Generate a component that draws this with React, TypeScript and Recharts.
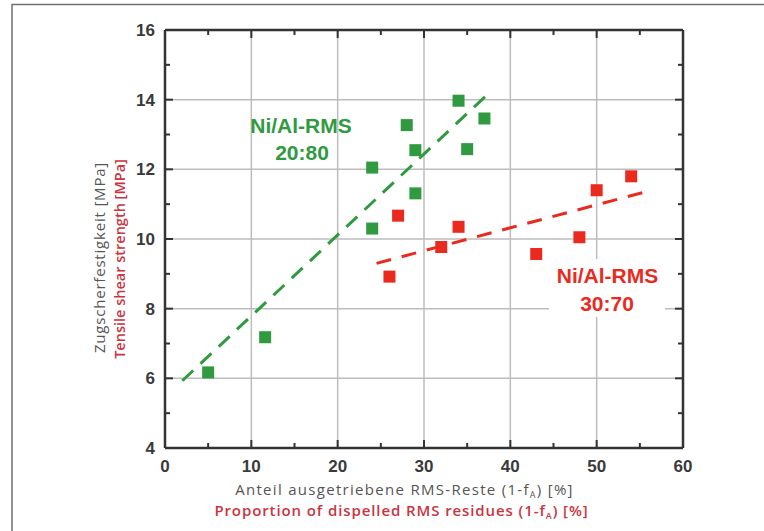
import React from 'react';
import { ScatterChart, Scatter, XAxis, YAxis, CartesianGrid } from 'recharts';

// ---- data ----
const greenX = [5, 11.6, 24, 24, 28, 29, 29, 34, 35, 37];
const greenY = [6.17, 7.18, 10.3, 12.05, 13.27, 12.55, 11.31, 13.97, 12.58, 13.46];
const redX = [26, 27, 32, 34, 43, 48, 50, 54];
const redY = [8.92, 10.67, 9.77, 10.35, 9.57, 10.05, 11.4, 11.8];
const greenFitX = [2, 37.4];
const greenFitY = [5.93, 14.16];
const redFitX = [24.5, 55.3];
const redFitY = [9.3, 11.33];
const xTicks = [0, 5, 10, 15, 20, 25, 30, 35, 40, 45, 50, 55, 60];
const yTicks = [4, 5, 6, 7, 8, 9, 10, 11, 12, 13, 14, 15, 16];
const xGrid = [10, 20, 30, 40, 50];
const yGrid = [6, 8, 10, 12, 14];

const zip = (xs: number[], ys: number[]) => xs.map((x, i) => ({ x, y: ys[i] }));
const greenData = zip(greenX, greenY);
const redData = zip(redX, redY);
const greenFit = zip(greenFitX, greenFitY);
const redFit = zip(redFitX, redFitY);

const GREEN = '#2f9a3f';
const RED = '#ea2a1e';
const AXIS = '#333333';
const TICKTXT = '#3a3a3a';
const GRAYTXT = '#555555';
const REDTXT = '#c9353f';

const MAJ = 8;
const MIN = 5;

const BottomTick = (p: any) => {
  const v = p.payload.value;
  const major = v % 10 === 0;
  return (
    <g>
      <line x1={p.x} y1={p.y} x2={p.x} y2={p.y - (major ? MAJ : MIN)} stroke={AXIS} strokeWidth={2} />
      {major && (
        <text x={p.x} y={p.y + 24} textAnchor="middle" fontFamily="'Liberation Sans', Arial, sans-serif" fontWeight="bold" fontSize={17} fill={TICKTXT}>
          {v}
        </text>
      )}
    </g>
  );
};
const TopTick = (p: any) => {
  const v = p.payload.value;
  const major = v % 10 === 0;
  return <line x1={p.x} y1={p.y} x2={p.x} y2={p.y + (major ? MAJ : MIN)} stroke={AXIS} strokeWidth={2} />;
};
const LeftTick = (p: any) => {
  const v = p.payload.value;
  const major = v % 2 === 0;
  return (
    <g>
      <line x1={p.x} y1={p.y} x2={p.x + (major ? MAJ : MIN)} y2={p.y} stroke={AXIS} strokeWidth={2} />
      {major && (
        <text x={p.x - 10} y={p.y + 6} textAnchor="end" fontFamily="'Liberation Sans', Arial, sans-serif" fontWeight="bold" fontSize={17} fill={TICKTXT}>
          {v}
        </text>
      )}
    </g>
  );
};
const RightTick = (p: any) => {
  const v = p.payload.value;
  const major = v % 2 === 0;
  return <line x1={p.x} y1={p.y} x2={p.x - (major ? MAJ : MIN)} y2={p.y} stroke={AXIS} strokeWidth={2} />;
};

const Square = (color: string) => (p: any) => (
  <rect x={p.cx - 6} y={p.cy - 6} width={12} height={12} fill={color} />
);
const Nothing = () => <g />;

const titleFont = "'Open Sans', 'Noto Sans', sans-serif";
const labelFont = "'Liberation Sans', Arial, sans-serif";

export default function App() {
  return (
    <div style={{ position: 'absolute', left: 0, top: 0, width: 764, height: 531, background: '#fff' }}>
      <ScatterChart width={764} height={531} margin={{ top: 0, right: 0, bottom: 0, left: 0 }}>
        <CartesianGrid verticalValues={xGrid} horizontalValues={yGrid} stroke="#bdbdbd" strokeWidth={1.5} xAxisId="b" yAxisId="l" />
        <XAxis xAxisId="b" type="number" dataKey="x" domain={[0, 60]} ticks={xTicks} interval={0} orientation="bottom" height={83}
          tickSize={0} tickMargin={0} tickLine={false} tick={<BottomTick />} axisLine={{ stroke: AXIS, strokeWidth: 2.5 }} allowDataOverflow />
        <XAxis xAxisId="t" type="number" dataKey="x" domain={[0, 60]} ticks={xTicks} interval={0} orientation="top" height={30}
          tickSize={0} tickMargin={0} tickLine={false} tick={<TopTick />} axisLine={{ stroke: AXIS, strokeWidth: 2.5 }} allowDataOverflow />
        <YAxis yAxisId="l" type="number" dataKey="y" domain={[4, 16]} ticks={yTicks} interval={0} orientation="left" width={165}
          tickSize={0} tickMargin={0} tickLine={false} tick={<LeftTick />} axisLine={{ stroke: AXIS, strokeWidth: 2.5 }} allowDataOverflow />
        <YAxis yAxisId="r" type="number" dataKey="y" domain={[4, 16]} ticks={yTicks} interval={0} orientation="right" width={81}
          tickSize={0} tickMargin={0} tickLine={false} tick={<RightTick />} axisLine={{ stroke: AXIS, strokeWidth: 2.5 }} allowDataOverflow />
        <Scatter xAxisId="b" yAxisId="l" data={greenFit} line={{ stroke: GREEN, strokeWidth: 3, strokeDasharray: '15 10' }} lineType="joint" shape={<Nothing />} isAnimationActive={false} />
        <Scatter xAxisId="b" yAxisId="l" data={redFit} line={{ stroke: RED, strokeWidth: 3, strokeDasharray: '15 11' }} lineType="joint" shape={<Nothing />} isAnimationActive={false} />
        <Scatter xAxisId="b" yAxisId="l" data={greenData} shape={Square(GREEN)} isAnimationActive={false} />
        <Scatter xAxisId="b" yAxisId="l" data={redData} shape={Square(RED)} isAnimationActive={false} />
      </ScatterChart>
      <svg width={764} height={531} style={{ position: 'absolute', left: 0, top: 0, pointerEvents: 'none' }}>
        {/* frame */}
        <line x1={12} y1={4.5} x2={764} y2={4.5} stroke="#6f6f6f" strokeWidth={1.5} />
        <line x1={12} y1={4} x2={12} y2={531} stroke="#6f6f6f" strokeWidth={1.5} />
        {/* annotations */}
        <text x={301} y={133} textAnchor="middle" fontFamily={labelFont} fontWeight="bold" fontSize={21} fill={GREEN}>Ni/Al-RMS</text>
        <text x={302} y={160} textAnchor="middle" fontFamily={labelFont} fontWeight="bold" fontSize={21} fill={GREEN}>20:80</text>
        <rect x={549} y={259} width={116} height={58} fill="#fff" />
        <text x={607.5} y={283} textAnchor="middle" fontFamily={labelFont} fontWeight="bold" fontSize={21} fill={RED}>Ni/Al-RMS</text>
        <text x={607} y={311} textAnchor="middle" fontFamily={labelFont} fontWeight="bold" fontSize={21} fill={RED}>30:70</text>
        {/* axis titles */}
        <text x={404.5} y={495} textAnchor="middle" fontFamily={titleFont} fontSize={15} letterSpacing={1.3} fill={GRAYTXT}>
          Anteil ausgetriebene RMS-Reste (1-f<tspan fontSize={9} dy={3}>A</tspan><tspan dy={-3}>) [%]</tspan>
        </text>
        <text x={401.5} y={516} textAnchor="middle" fontFamily={titleFont} fontWeight={600} fontSize={15} letterSpacing={0.9} fill={REDTXT}>
          Proportion of dispelled RMS residues (1-f<tspan fontSize={9} dy={3}>A</tspan><tspan dy={-3}>) [%]</tspan>
        </text>
        <text x={105} y={257.5} textAnchor="middle" transform="rotate(-90 105 257.5)" fontFamily={titleFont} fontSize={15} letterSpacing={0.8} fill={GRAYTXT}>
          Zugscherfestigkeit [MPa]
        </text>
        <text x={125} y={259} textAnchor="middle" transform="rotate(-90 125 259)" fontFamily={titleFont} fontWeight={600} fontSize={14.5} fill={REDTXT}>
          Tensile shear strength [MPa]
        </text>
      </svg>
    </div>
  );
}
